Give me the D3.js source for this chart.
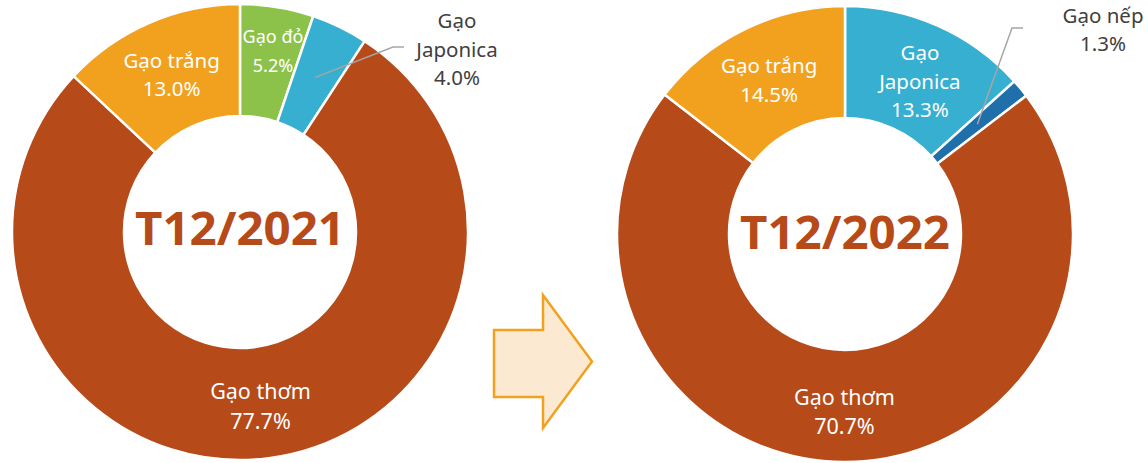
<!DOCTYPE html>
<html>
<head>
<meta charset="utf-8">
<script src="https://cdn.jsdelivr.net/npm/d3@7"></script>
<style>
  html, body { margin: 0; padding: 0; background: #fff; }
  svg { display: block; }
</style>
</head>
<body>
<svg id="chart" width="1148" height="463"></svg>
<script>
// data
const cats2021 = ["Gạo đỏ", "Gạo\nJaponica", "Gạo thơm", "Gạo trắng"];
const vals2021 = [5.2, 4.0, 77.7, 13.0];
const cats2022 = ["Gạo\nJaponica", "Gạo nếp", "Gạo thơm", "Gạo trắng"];
const vals2022 = [13.3, 1.3, 70.7, 14.5];
const titles = ["T12/2021", "T12/2022"];

const colors = {
    "Gạo đỏ": "#8CC24A",
    "Gạo\nJaponica": "#37AFD1",
    "Gạo thơm": "#B64A18",
    "Gạo trắng": "#F2A11F",
    "Gạo nếp": "#1F6FAB"
};

const svg = d3.select("#chart");
const outerR = 228, innerR = 116;
const fmt = v => d3.format(".1f")(v) + "%";

const pie = d3.pie().sort(null).value(d => d.v);
const arc = d3.arc().innerRadius(innerR).outerRadius(outerR);

// per-chart layout
const donuts = [
    {cats: cats2021, vals: vals2021, title: titles[0], cx: 240, cy: 232, titleDy: 13,
     outside: {"Gạo\nJaponica": {elbow: [153, -185], tail: 11, label: [217, -183.5]}},
     nudge: {"Gạo đỏ": [5, -12], "Gạo thơm": [0, 3]},
     size: {"Gạo đỏ": 18, "Gạo thơm": 21.5}},
    {cats: cats2022, vals: vals2022, title: titles[1], cx: 845, cy: 234, titleDy: 15,
     outside: {"Gạo nếp": {elbow: [167, -206], tail: 11, label: [258, -205]}},
     nudge: {"Gạo thơm": [0, 5], "Gạo\nJaponica": [5, 4]},
     size: {"Gạo thơm": 21.5}}
];

donuts.forEach(cfg => {
    const data = cfg.cats.map((c, i) => ({c: c, v: cfg.vals[i]}));
    const g = svg.append("g").attr("transform", `translate(${cfg.cx},${cfg.cy})`);
    const arcs = pie(data);

    g.selectAll("path.slice")
        .data(arcs)
        .join("path")
        .attr("class", "slice")
        .attr("d", arc)
        .attr("fill", d => colors[d.data.c])
        .attr("stroke", "#fff")
        .attr("stroke-width", 2.5);

    arcs.forEach(d => {
        const [mx, my] = arc.centroid(d);
        const lines = d.data.c.split("\n").concat([fmt(d.data.v)]);
        const out = cfg.outside[d.data.c];
        let ax, ay, fill;
        if (out) {
            g.append("polyline")
                .attr("points", [[mx, my], out.elbow, [out.elbow[0] + out.tail, out.elbow[1]]].map(p => p.join(",")).join(" "))
                .attr("fill", "none")
                .attr("stroke", "#A6A6A6")
                .attr("stroke-width", 1.5);
            [ax, ay] = out.label;
            fill = "#404040";
        } else {
            const n = cfg.nudge[d.data.c] || [0, 0];
            ax = mx + n[0];
            ay = my + n[1];
            fill = "#fff";
        }
        const fs = cfg.size[d.data.c] || 20.5;
        const lh = Math.max(28.5, fs * 1.38);
        g.append("g")
            .selectAll("text")
            .data(lines)
            .join("text")
            .attr("x", ax)
            .attr("y", (t, i) => ay + (i - (lines.length - 1) / 2) * lh)
            .attr("text-anchor", "middle")
            .attr("dominant-baseline", "central")
            .attr("font-family", "'Noto Sans', sans-serif")
            .attr("font-size", fs)
            .attr("fill", fill)
            .text(t => t);
    });

    g.append("text")
        .attr("x", 0)
        .attr("y", cfg.titleDy)
        .attr("text-anchor", "middle")
        .attr("font-family", "'Noto Sans', sans-serif")
        .attr("font-weight", "bold")
        .attr("font-size", 46)
        .attr("textLength", 210)
        .attr("lengthAdjust", "spacingAndGlyphs")
        .attr("fill", "#B64A18")
        .text(cfg.title);
});

// arrow between the two donuts
const arrow = {x0: 494, xNeck: 543, xTip: 592, yTop: 295, yShaftTop: 330, yShaftBot: 397, yBot: 428};
const yMid = (arrow.yTop + arrow.yBot) / 2;
svg.append("path")
    .attr("d", d3.line()([
        [arrow.x0, arrow.yShaftTop], [arrow.xNeck, arrow.yShaftTop], [arrow.xNeck, arrow.yTop],
        [arrow.xTip, yMid], [arrow.xNeck, arrow.yBot], [arrow.xNeck, arrow.yShaftBot],
        [arrow.x0, arrow.yShaftBot]
    ]) + "Z")
    .attr("fill", "#FCE9D2")
    .attr("stroke", "#F2A11F")
    .attr("stroke-width", 2.5)
    .attr("stroke-linejoin", "miter");
</script>
</body>
</html>
